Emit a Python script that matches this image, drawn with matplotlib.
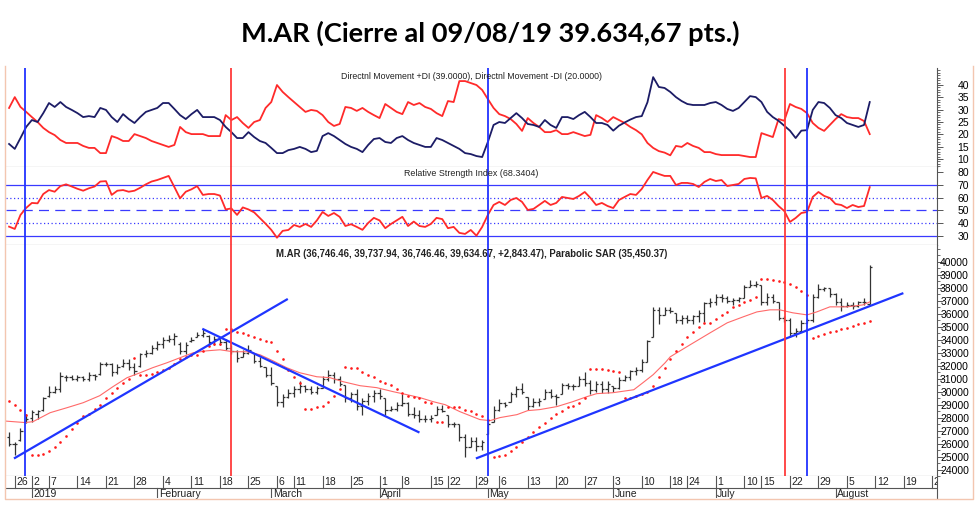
import numpy as np
import pandas as pd
import matplotlib
matplotlib.use("Agg")
import matplotlib.pyplot as plt
from matplotlib.lines import Line2D

# ---------------- datos ----------------
feriados = ["2018-12-24", "2018-12-25", "2018-12-31", "2019-01-01", "2019-03-04",
            "2019-03-05", "2019-04-02", "2019-04-18", "2019-04-19", "2019-05-01",
            "2019-06-17", "2019-06-20", "2019-07-08", "2019-07-09"]
fechas = pd.bdate_range("2018-12-21", "2019-08-30")
fechas = fechas[~fechas.isin(pd.to_datetime(feriados))]
n_ruedas = 152  # 21/12/18 .. 09/08/19

# precios en miles de puntos
apertura = [
    26.5, 26.0, 26.3, 27.7, 28.0, 28.3, 28.6, 29.7, 30.0, 30.2,
    31.1, 31.1, 31.0, 31.1, 31.0, 31.3, 31.4, 32.1, 32.1, 31.5,
    32.0, 32.2, 31.9, 32.0, 32.9, 33.0, 33.4, 33.7, 34.0, 34.1,
    33.7, 33.1, 33.9, 34.2, 34.4, 34.3, 33.8, 34.1, 33.8, 33.4,
    33.1, 32.7, 33.0, 33.0, 32.4, 31.9, 31.3, 30.4, 29.2, 29.6,
    29.9, 30.2, 30.4, 30.2, 30.0, 30.3, 31.0, 31.3, 31.0, 30.5,
    29.5, 29.8, 28.9, 29.3, 29.7, 29.9, 29.5, 28.6, 28.7, 29.0,
    29.1, 28.3, 28.2, 27.9, 27.9, 28.2, 28.7, 28.2, 27.5, 27.5,
    26.5, 25.7, 26.2, 25.8, 26.7, 27.7, 28.6, 29.1, 29.2, 29.8,
    30.2, 29.6, 28.9, 29.2, 29.4, 30.0, 29.7, 29.8, 30.5, 30.4,
    30.4, 31.0, 30.7, 30.1, 30.6, 30.2, 30.4, 30.3, 30.9, 31.1,
    31.6, 31.7, 32.3, 34.2, 36.3, 35.9, 36.3, 36.1, 35.5, 35.7,
    35.5, 35.8, 36.1, 36.8, 36.9, 37.3, 37.2, 37.0, 37.1, 37.2,
    38.1, 38.2, 38.2, 36.9, 37.3, 36.9, 35.7, 35.5, 34.5, 34.7,
    35.3, 35.5, 37.3, 37.9, 38.0, 37.5, 36.9, 36.6, 36.7, 36.6,
    36.9, 36.746]
maximo = [
    26.9, 26.1, 27.2, 28.3, 28.6, 28.6, 29.6, 30.4, 30.4, 31.5,
    31.3, 31.3, 31.3, 31.2, 31.5, 31.4, 32.3, 32.3, 32.2, 32.1,
    32.5, 32.5, 32.2, 33.0, 33.2, 33.6, 33.9, 34.2, 34.4, 34.5,
    33.8, 33.8, 34.2, 34.6, 34.8, 34.4, 34.3, 34.1, 34.1, 33.6,
    33.2, 33.2, 33.6, 33.0, 32.7, 31.9, 31.9, 30.4, 29.8, 30.2,
    30.4, 30.8, 30.5, 30.4, 30.4, 31.2, 31.7, 31.5, 31.2, 30.5,
    30.0, 30.2, 29.5, 29.9, 30.1, 30.2, 29.5, 28.9, 29.2, 29.8,
    29.2, 28.8, 28.6, 28.2, 28.2, 28.9, 29.0, 28.2, 27.7, 27.5,
    26.7, 26.5, 26.5, 26.3, 27.7, 28.9, 29.4, 29.2, 30.0, 30.4,
    30.7, 29.6, 29.5, 29.5, 30.2, 30.2, 29.8, 30.7, 30.7, 30.6,
    31.2, 31.5, 30.9, 30.8, 30.8, 30.8, 30.4, 31.1, 31.3, 31.7,
    31.9, 32.5, 34.0, 36.5, 36.5, 36.5, 36.5, 36.1, 35.9, 35.9,
    35.9, 36.3, 36.9, 37.2, 37.5, 37.5, 37.4, 37.2, 37.3, 38.2,
    38.6, 38.5, 38.2, 37.6, 37.5, 36.9, 35.8, 35.7, 34.9, 35.5,
    35.7, 37.5, 38.3, 38.1, 38.0, 37.6, 37.2, 36.9, 36.9, 37.0,
    37.2, 39.738]
minimo = [
    25.8, 25.1, 26.2, 27.6, 27.7, 27.9, 28.5, 29.6, 29.9, 30.0,
    30.8, 30.9, 30.8, 30.8, 30.8, 30.9, 31.3, 32.0, 31.2, 31.4,
    31.9, 31.7, 31.3, 31.9, 32.7, 32.9, 33.2, 33.4, 33.8, 33.6,
    32.9, 32.9, 33.8, 34.2, 34.2, 33.6, 33.6, 33.6, 33.2, 32.9,
    32.3, 32.7, 32.9, 32.2, 31.9, 31.1, 30.5, 28.9, 28.8, 29.5,
    29.6, 29.9, 30.0, 29.8, 29.8, 30.3, 30.8, 30.7, 30.4, 29.2,
    29.2, 28.6, 28.2, 29.0, 29.2, 29.4, 28.2, 28.5, 28.5, 28.9,
    28.1, 28.0, 27.7, 27.7, 27.7, 28.2, 28.4, 27.3, 27.3, 26.2,
    25.0, 25.7, 25.4, 25.5, 26.7, 27.7, 28.5, 28.8, 29.2, 29.6,
    29.8, 28.6, 28.8, 28.9, 29.4, 29.5, 29.0, 29.8, 30.2, 30.1,
    30.4, 30.4, 29.8, 30.0, 29.9, 29.9, 30.0, 30.2, 30.8, 30.9,
    31.3, 31.5, 32.3, 34.2, 35.2, 35.9, 36.1, 35.3, 35.2, 35.3,
    35.2, 35.4, 35.4, 36.5, 36.7, 36.9, 36.8, 36.7, 36.9, 37.2,
    38.1, 38.1, 36.7, 36.7, 36.8, 35.5, 35.4, 34.2, 34.2, 34.6,
    35.3, 35.4, 37.2, 37.8, 37.3, 36.7, 36.2, 36.5, 36.4, 36.5,
    36.7, 36.746]
cierre = [
    26.0, 26.0, 27.0, 27.9, 28.4, 28.5, 29.5, 30.0, 30.2, 31.2,
    31.1, 31.0, 31.1, 31.0, 31.3, 31.2, 32.1, 32.1, 31.5, 31.9,
    32.2, 31.9, 31.6, 32.9, 33.0, 33.4, 33.7, 34.0, 34.1, 34.3,
    33.1, 33.6, 34.0, 34.4, 34.5, 33.8, 34.1, 33.8, 33.4, 33.1,
    32.6, 33.0, 33.2, 32.4, 32.0, 31.3, 30.7, 29.2, 29.6, 29.9,
    30.2, 30.4, 30.2, 30.0, 30.3, 31.0, 31.3, 31.0, 30.6, 29.5,
    29.8, 28.9, 29.3, 29.7, 29.9, 29.7, 28.6, 28.7, 29.0, 29.1,
    28.3, 28.2, 27.9, 27.9, 28.0, 28.7, 28.5, 27.5, 27.5, 26.5,
    25.7, 26.2, 25.8, 26.1, 27.5, 28.6, 29.1, 29.0, 29.8, 30.2,
    30.0, 28.9, 29.2, 29.3, 30.0, 29.7, 29.6, 30.5, 30.4, 30.4,
    31.0, 30.7, 30.1, 30.6, 30.2, 30.6, 30.3, 30.9, 31.1, 31.6,
    31.7, 32.3, 33.9, 36.3, 35.9, 36.3, 36.2, 35.5, 35.7, 35.5,
    35.8, 36.1, 36.8, 36.9, 37.3, 37.2, 37.0, 37.1, 37.2, 38.1,
    38.2, 38.3, 36.9, 37.3, 37.0, 35.7, 35.5, 34.5, 34.7, 35.3,
    35.5, 37.3, 37.9, 38.0, 37.5, 36.9, 36.6, 36.7, 36.6, 36.9,
    36.9, 39.635]
sar = [
    29.3, 29.0, 28.6, 28.2, 25.1, 25.15, 25.2, 25.4, 25.7, 26.1,
    26.6, 27.1, 27.6, 28.1, 28.3, 28.7, 29.0, 29.5, 29.9, 30.3,
    30.7, 31.0, 32.6, 31.3, 31.3, 31.4, 31.5, 31.7, 31.85, 32.1,
    32.5, 32.7, 32.8, 32.85, 33.15, 33.5, 33.7, 33.7, 34.8, 34.8,
    34.6, 34.5, 34.4, 34.2, 34.1, 33.9, 33.8, 33.1, 32.5, 31.7,
    31.15, 30.7, 28.7, 28.7, 28.8, 28.9, 29.2, 29.7, 30.2, 31.9,
    31.85, 31.8, 31.5, 31.3, 31.1, 30.85, 30.7, 30.5, 30.2, 29.9,
    29.7, 29.6, 29.5, 29.2, 29.1, 27.7, 27.7, 28.85, 28.8, 28.8,
    28.6, 28.5, 28.3, 28.1, 27.85, 25.0, 25.05, 25.1, 25.4, 25.7,
    26.1, 26.5, 26.9, 27.3, 27.6, 28.0, 28.3, 28.5, 28.8, 28.9,
    29.15, 29.5, 31.75, 31.75, 31.75, 31.7, 31.6, 31.55, 29.55, 29.55,
    29.7, 29.85, 30.0, 30.4, 31.15, 31.85, 32.5, 33.1, 33.7, 34.2,
    34.6, 35.0, 35.3, 35.3, 35.6, 35.9, 36.15, 36.5, 36.65, 36.9,
    37.05, 37.3, 38.7, 38.7, 38.6, 38.55, 38.45, 38.3, 38.1, 37.8,
    37.45, 34.15, 34.3, 34.45, 34.6, 34.7, 34.85, 34.9, 35.1, 35.2,
    35.3, 35.45]
media_x = [-0.5, 2.8, 4.2, 7.2, 10.2, 13.0, 15.9, 18.2, 20.7, 23.0, 25.2, 27.7,
           30.0, 32.3, 34.7, 37.0, 39.3, 41.7, 44.0, 46.3, 48.7, 51.0, 54.0, 56.3,
           58.6, 61.6, 64.5, 67.4, 69.8, 72.1, 74.4, 76.5, 79.1, 82.6, 84.4, 86.1,
           89.1, 91.0, 93.1, 96.1, 98.9, 101.4, 103.1, 105.9, 109.6, 111.2, 113.0,
           115.1, 116.0, 119.5, 123.0, 126.0, 128.8, 131.2, 133.5, 135.2, 137.5,
           140.0, 141.7, 144.0, 147.0, 149.8, 151.0]
media_y = [27.73, 27.62, 27.69, 28.38, 28.77, 29.15, 29.69, 30.38, 31.08, 31.46, 31.85,
           32.23, 32.62, 33.0, 33.15, 33.23, 33.08, 33.08, 32.85, 32.38, 31.85, 31.46,
           31.15, 31.08, 30.77, 30.46, 30.31, 30.0, 29.77, 29.54, 29.23, 29.0, 28.46,
           27.85, 27.77, 28.0, 28.23, 28.54, 28.62, 28.85, 29.23, 29.62, 29.85, 29.92,
           30.15, 30.69, 31.31, 32.23, 32.69, 33.62, 34.54, 35.31, 35.77, 36.15, 36.31,
           36.31, 36.08, 35.92, 36.15, 36.54, 36.54, 36.69, 36.92]
di_mas = [
    16.1, 14.1, 18.5, 23.0, 25.8, 25.0, 28.6, 32.7, 31.1, 33.1,
    31.1, 29.9, 28.6, 27.0, 27.4, 27.0, 30.7, 29.9, 27.0, 25.0,
    28.2, 26.2, 24.6, 27.0, 29.1, 29.9, 30.7, 32.7, 32.7, 30.3,
    27.8, 26.2, 28.2, 29.9, 27.0, 27.0, 27.0, 25.8, 23.0, 20.9,
    18.5, 18.5, 20.9, 18.9, 17.3, 16.5, 14.5, 12.4, 12.4, 13.6,
    14.1, 14.9, 14.1, 12.8, 13.3, 19.3, 20.5, 19.3, 17.7, 16.1,
    14.9, 14.1, 12.8, 15.7, 18.1, 18.5, 16.9, 16.5, 18.5, 19.3,
    17.7, 16.5, 15.7, 14.9, 14.9, 18.5, 17.7, 16.5, 15.3, 14.1,
    12.4, 12.0, 11.2, 10.8, 16.9, 23.8, 25.0, 24.6, 26.6, 28.6,
    26.6, 24.2, 23.8, 23.0, 25.8, 23.8, 22.6, 27.0, 27.0, 26.2,
    27.8, 29.1, 27.0, 24.6, 24.6, 23.8, 21.5, 23.5, 24.8, 26.0,
    27.0, 27.4, 33.0, 43.2, 39.2, 38.8, 37.2, 35.1, 33.5, 32.3,
    31.9, 31.9, 31.9, 32.7, 33.1, 31.9, 30.3, 29.5, 30.7, 33.1,
    35.5, 35.1, 33.1, 29.1, 27.0, 25.5, 23.5, 21.5, 18.5, 21.5,
    21.7, 29.9, 33.1, 32.7, 30.7, 27.8, 26.6, 24.6, 23.8, 23.0,
    23.8, 33.1]
di_menos = [
    30.7, 35.1, 31.1, 29.1, 27.0, 25.0, 22.6, 20.9, 19.7, 17.7,
    16.5, 16.5, 16.5, 15.3, 14.5, 14.5, 12.4, 12.4, 19.3, 18.5,
    17.3, 17.3, 20.1, 19.3, 18.5, 17.3, 16.5, 15.7, 14.9, 15.7,
    23.0, 20.9, 20.1, 20.1, 20.1, 19.3, 19.3, 19.3, 27.8, 25.8,
    27.0, 24.6, 22.6, 25.0, 25.8, 30.7, 33.1, 40.0, 37.2, 35.1,
    33.1, 31.1, 29.1, 29.9, 29.5, 27.8, 25.0, 23.4, 24.2, 31.1,
    30.7, 29.5, 30.7, 29.1, 27.8, 26.6, 32.3, 30.7, 29.1, 28.2,
    33.1, 31.9, 32.7, 31.1, 30.3, 28.6, 27.4, 33.5, 33.1, 41.6,
    41.6, 40.8, 40.0, 38.0, 34.3, 30.7, 28.2, 27.4, 26.2, 24.2,
    21.4, 26.6, 24.6, 23.0, 20.9, 20.9, 21.7, 20.1, 20.1, 20.9,
    20.1, 19.3, 19.8, 27.8, 26.6, 25.0, 27.0, 25.8, 24.6, 23.0,
    21.7, 20.0, 16.5, 14.5, 13.2, 12.6, 11.5, 15.3, 14.9, 16.5,
    15.3, 14.5, 12.8, 12.8, 12.0, 11.6, 11.6, 11.6, 11.6, 11.2,
    10.8, 10.8, 20.5, 19.7, 18.9, 26.2, 25.5, 32.3, 31.1, 30.3,
    28.6, 24.6, 22.6, 21.4, 23.8, 26.2, 28.2, 27.0, 26.6, 26.6,
    25.4, 20.1]
rsi = [
    37.3, 35.5, 46.5, 52.0, 55.9, 55.6, 62.9, 66.0, 64.7, 69.1,
    70.5, 68.8, 67.0, 65.5, 67.4, 68.8, 72.7, 73.0, 62.2, 65.5,
    66.0, 64.7, 65.5, 67.8, 70.5, 72.7, 73.9, 75.5, 77.1, 68.4,
    59.5, 64.7, 66.6, 69.1, 62.2, 62.9, 62.9, 61.7, 50.8, 51.6,
    46.5, 52.4, 50.8, 48.5, 44.1, 39.6, 34.8, 28.6, 34.0, 34.7,
    38.6, 37.1, 39.4, 37.1, 42.2, 48.8, 45.7, 48.0, 45.0, 37.8,
    39.2, 37.1, 34.8, 40.2, 44.2, 42.2, 36.1, 39.4, 42.2, 45.0,
    37.8, 41.3, 37.8, 37.1, 39.4, 44.2, 43.2, 36.1, 37.1, 32.4,
    31.6, 34.7, 30.2, 37.1, 46.5, 54.3, 56.7, 54.3, 58.2, 59.8,
    56.7, 50.4, 51.2, 54.3, 57.5, 54.3, 55.9, 60.6, 59.8, 59.0,
    61.4, 64.5, 59.8, 54.3, 55.9, 53.5, 51.9, 58.2, 60.6, 62.9,
    62.2, 66.9, 73.9, 80.2, 78.6, 77.1, 77.1, 70.0, 71.6, 71.6,
    70.8, 68.4, 72.4, 74.7, 73.1, 73.9, 69.2, 70.0, 70.8, 74.7,
    75.5, 75.2, 59.8, 61.4, 58.2, 53.5, 49.6, 41.0, 44.1, 48.0,
    48.8, 60.6, 64.5, 61.4, 59.8, 55.1, 54.3, 51.9, 54.3, 52.7,
    53.5, 68.3]

# rectas de tendencia (rueda inicial/final, precio inicial/final)
tend_x = [(0.86, 48.9), (33.9, 72.0), (81.9, 156.9)]
tend_y = [(24850, 37150), (34850, 26850), (24850, 37600)]
# líneas verticales de señales
vert_x = [2.8, 38.9, 84.0, 136.1, 140.0]
vert_c = ["#2233ff", "#ff3b3b", "#2233ff", "#ff3b3b", "#2233ff"]

titulo = "M.AR (Cierre al 09/08/19 39.634,67 pts.)"
txt_dmi = "Directnl Movement +DI (39.0000), Directnl Movement -DI (20.0000)"
txt_rsi = "Relative Strength Index (68.3404)"
txt_precio = ("M.AR (36,746.46, 39,737.94, 36,746.46, 39,634.67, +2,843.47), "
              "Parabolic SAR (35,450.37)")

# ---------------- gráfico ----------------
plt.rcParams["font.family"] = ["Liberation Sans", "DejaVu Sans"]

W, H = 980, 505
fig = plt.figure(figsize=(W / 100, H / 100), dpi=100)


def caja(x0, y0, x1, y1):
    return [x0 / W, 1 - y1 / H, (x1 - x0) / W, (y1 - y0) / H]


x_izq, x_der = 6, 937
ax1 = fig.add_axes(caja(x_izq, 68, x_der, 167))
ax2 = fig.add_axes(caja(x_izq, 167, x_der, 245))
ax3 = fig.add_axes(caja(x_izq, 245, x_der, 476))
ax4 = fig.add_axes(caja(x_izq, 476, x_der, 498))

xlim = (-0.54, 162.8)
gris = "#555555"
for ax in (ax1, ax2, ax3, ax4):
    ax.set_xlim(*xlim)
    ax.set_xticks([])
    ax.spines["left"].set_visible(False)
    ax.spines["top"].set_visible(False)
    ax.spines["right"].set_color(gris)
    ax.spines["bottom"].set_color(gris)
    ax.spines["right"].set_linewidth(0.8)
    ax.spines["bottom"].set_linewidth(0.8)
    ax.yaxis.tick_right()
    ax.tick_params(axis="y", which="major", length=4, width=0.7, color=gris,
                   labelsize=7.5, pad=19)
    ax.tick_params(axis="y", which="minor", length=2, width=0.6, color=gris)

x = np.arange(n_ruedas)

# panel DMI
ax1.plot(x, di_menos, color="#ff2a2a", lw=1.3)
ax1.plot(x, di_mas, color="#1c1c66", lw=1.3)
ax1.set_ylim(6.76, 46.9)
ax1.set_yticks(range(10, 45, 5))
ax1.set_yticks(range(7, 47), minor=True)
ax1.text(0.5, 0.91, txt_dmi, transform=ax1.transAxes, ha="center", va="center",
         fontsize=6.3, color="#222222")

# panel RSI
azul = "#3a3aff"
ax2.axhline(70, color=azul, lw=0.9)
ax2.axhline(30, color=azul, lw=0.9)
ax2.axhline(60, color=azul, lw=0.9, ls=(0, (1, 2)))
ax2.axhline(40, color=azul, lw=0.9, ls=(0, (1, 2)))
ax2.axhline(50, color=azul, lw=0.9, ls=(0, (8, 5)))
ax2.plot(x, rsi, color="#ff2a2a", lw=1.3)
ax2.set_ylim(22.9, 84.1)
ax2.set_yticks(range(30, 90, 10))
ax2.text(0.5, 0.92, txt_rsi, transform=ax2.transAxes, ha="center", va="center",
         fontsize=6.4, color="#222222")

# panel precio
barra = "#333333"
ap = np.array(apertura) * 1000
mx = np.array(maximo) * 1000
mn = np.array(minimo) * 1000
ci = np.array(cierre) * 1000
ax3.vlines(x, mn, mx, color=barra, lw=0.9)
ax3.hlines(ap, x - 0.4, x, color=barra, lw=0.9)
ax3.hlines(ci, x, x + 0.4, color=barra, lw=0.9)
ax3.plot(media_x, np.array(media_y) * 1000, color="#ff6a6a", lw=0.8)
ax3.plot(x, np.array(sar) * 1000, ls="none", marker="o", ms=1.9, mew=0,
         color="#ff1a1a")
for (xa, xb), (ya, yb) in zip(tend_x, tend_y):
    ax3.plot([xa, xb], [ya, yb], color="#1f35ff", lw=1.6, solid_capstyle="butt")
ax3.set_ylim(23538, 41308)
ax3.set_yticks(range(24000, 41000, 1000))
ax3.set_yticks(range(23500, 41500, 500), minor=True)
ax3.text(0.5, 0.961, txt_precio, transform=ax3.transAxes, ha="center", va="center",
         fontsize=6.9, fontweight="bold", color="#222222")

for ax in (ax1, ax2, ax3):
    for xv, cv in zip(vert_x, vert_c):
        ax.axvline(xv, color=cv, lw=1.3)
    plt.setp(ax.get_yticklabels(), ha="right")

# eje de fechas
ax4.set_ylim(0, 1)
ax4.set_yticks([])
ax4.axhline(0.455, color=gris, lw=0.8)
ax4.spines["bottom"].set_visible(False)
semana_prev = None
for i, f in enumerate(fechas):
    sem = f.isocalendar()[:2]
    if sem != semana_prev and i > 0 and i <= xlim[1]:
        ax4.plot([i, i], [0.455, 1], color=gris, lw=0.8)
        ax4.text(i + 0.25, 0.72, str(f.day), ha="left", va="center", fontsize=7.5,
                 color="#222222", clip_on=True)
    semana_prev = sem
for i in range(1, n_ruedas):
    if fechas[i].month != fechas[i - 1].month:
        nombre = "2019" if fechas[i].month == 1 else fechas[i].strftime("%B")
        ax4.plot([i, i], [0, 0.455], color=gris, lw=0.8)
        ax4.text(i + 0.25, 0.2, nombre, ha="left", va="center", fontsize=7.5,
                 color="#222222")

# marco exterior (izquierda, abajo, derecha)
marco = "#f3c6b0"
fx0, fx1 = 5 / W, 973 / W
fy0, fy1 = 1 - 499 / H, 1 - 66 / H
fig.lines.append(Line2D([fx0, fx0, fx1, fx1], [fy1, fy0, fy0, fy1],
                        transform=fig.transFigure, color=marco, lw=1.0))

fig.text(0.5, 1 - 33 / H, titulo, ha="center", va="center", fontsize=19.6,
         fontweight="bold", family=["Lato", "DejaVu Sans"])

fig.savefig("out.png", dpi=100)
